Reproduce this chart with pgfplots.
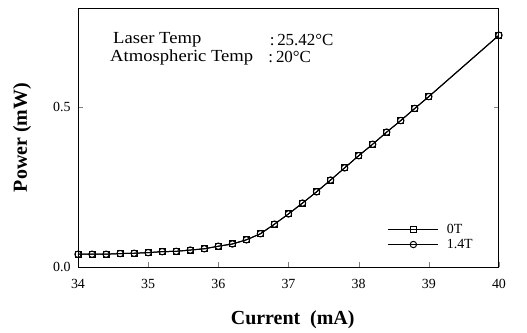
\documentclass[border=0pt]{standalone}
\usepackage{fontspec}
\setmainfont{Liberation Serif}
\usepackage{pgfplots}
\pgfplotsset{compat=1.18}
\pgfplotstableread{
x y
34.0 0.040
34.2 0.040
34.4 0.040
34.6 0.042
34.8 0.043
35.0 0.045
35.2 0.048
35.4 0.049
35.6 0.053
35.8 0.057
36.0 0.065
36.2 0.072
36.4 0.085
36.6 0.104
36.8 0.134
37.0 0.166
37.2 0.200
37.4 0.235
37.6 0.272
37.8 0.310
38.0 0.348
38.2 0.384
38.4 0.422
38.6 0.458
38.8 0.496
39.0 0.533
40.0 0.725
}\dataZero
\pgfplotstableread{
x y
34.0 0.040
34.2 0.040
34.4 0.040
34.6 0.042
34.8 0.043
35.0 0.045
35.2 0.048
35.4 0.049
35.6 0.053
35.8 0.057
36.0 0.065
36.2 0.072
36.4 0.085
36.6 0.104
36.8 0.134
37.0 0.166
37.2 0.200
37.4 0.235
37.6 0.272
37.8 0.310
38.0 0.348
38.2 0.384
38.4 0.422
38.6 0.458
38.8 0.496
39.0 0.533
40.0 0.725
}\dataOne
\pgfplotsset{
  longlegend/.style={legend image code/.code={\draw[mark repeat=2,mark phase=2,##1] plot coordinates {(0cm,0cm)(0.88cm,0cm)(1.76cm,0cm)};}},
}
\begin{document}
\begin{tikzpicture}
\begin{axis}[
  scale only axis,
  width=421bp, height=259bp,
  xmin=34, xmax=40, ymin=0, ymax=0.81,
  xtick={34,35,36,37,38,39,40},
  ytick={0,0.5},
  yticklabels={0.0,0.5},
  xtick pos=bottom,
  ytick pos=both,
  tick align=inside,
  major tick length=5bp,
  axis line style={line width=1pt},
  /pgf/number format/assume math mode=true,
  tick label style={font=\fontsize{14}{16}\selectfont},
  xticklabel style={yshift=-9bp},
  yticklabel style={xshift=-4bp},
  xlabel={\textbf{Current\ \ (mA)}},
  ylabel={\textbf{Power (mW)}},
  label style={font=\fontsize{20}{22}\selectfont},
  xlabel style={at={(axis description cs:0.51,-0.205)}, anchor=center},
  ylabel style={at={(axis description cs:-0.133,0.5)}, anchor=center, rotate=0},
  legend style={draw=none, fill=none, at={(0.95,0.05)}, anchor=south east,
    font=\fontsize{14}{15}\selectfont, row sep=0bp},
  legend cell align=left,
]
\addplot[black, line width=1pt, mark=square, mark size=3bp, mark options={fill=white, line width=1pt}, longlegend] table[x=x,y=y] {\dataZero};
\addlegendentry{\hspace{6bp}0T}
\addplot[black, line width=1pt, mark=o, mark size=3.2bp, mark options={fill=white, line width=1pt}, longlegend] table[x=x,y=y] {\dataOne};
\addlegendentry{\hspace{6bp}1.4T}
\node[anchor=west, font=\fontsize{17}{19}\selectfont, inner sep=0pt, xscale=1.1] at (rel axis cs:0.083,0.876) {Laser Temp};
\node[anchor=west, font=\fontsize{17}{19}\selectfont, inner sep=0pt, xscale=1.1] at (rel axis cs:0.076,0.811) {Atmospheric Temp};
\node[anchor=west, font=\fontsize{17}{19}\selectfont, inner sep=0pt] at (rel axis cs:0.455,0.876) {:\,25.42°C};
\node[anchor=west, font=\fontsize{17}{19}\selectfont, inner sep=0pt] at (rel axis cs:0.452,0.811) {:\,20°C};
\end{axis}
\path (current axis.south west) ++(-78bp,-63bp) rectangle ++(527bp,330bp);
\end{tikzpicture}
\end{document}
